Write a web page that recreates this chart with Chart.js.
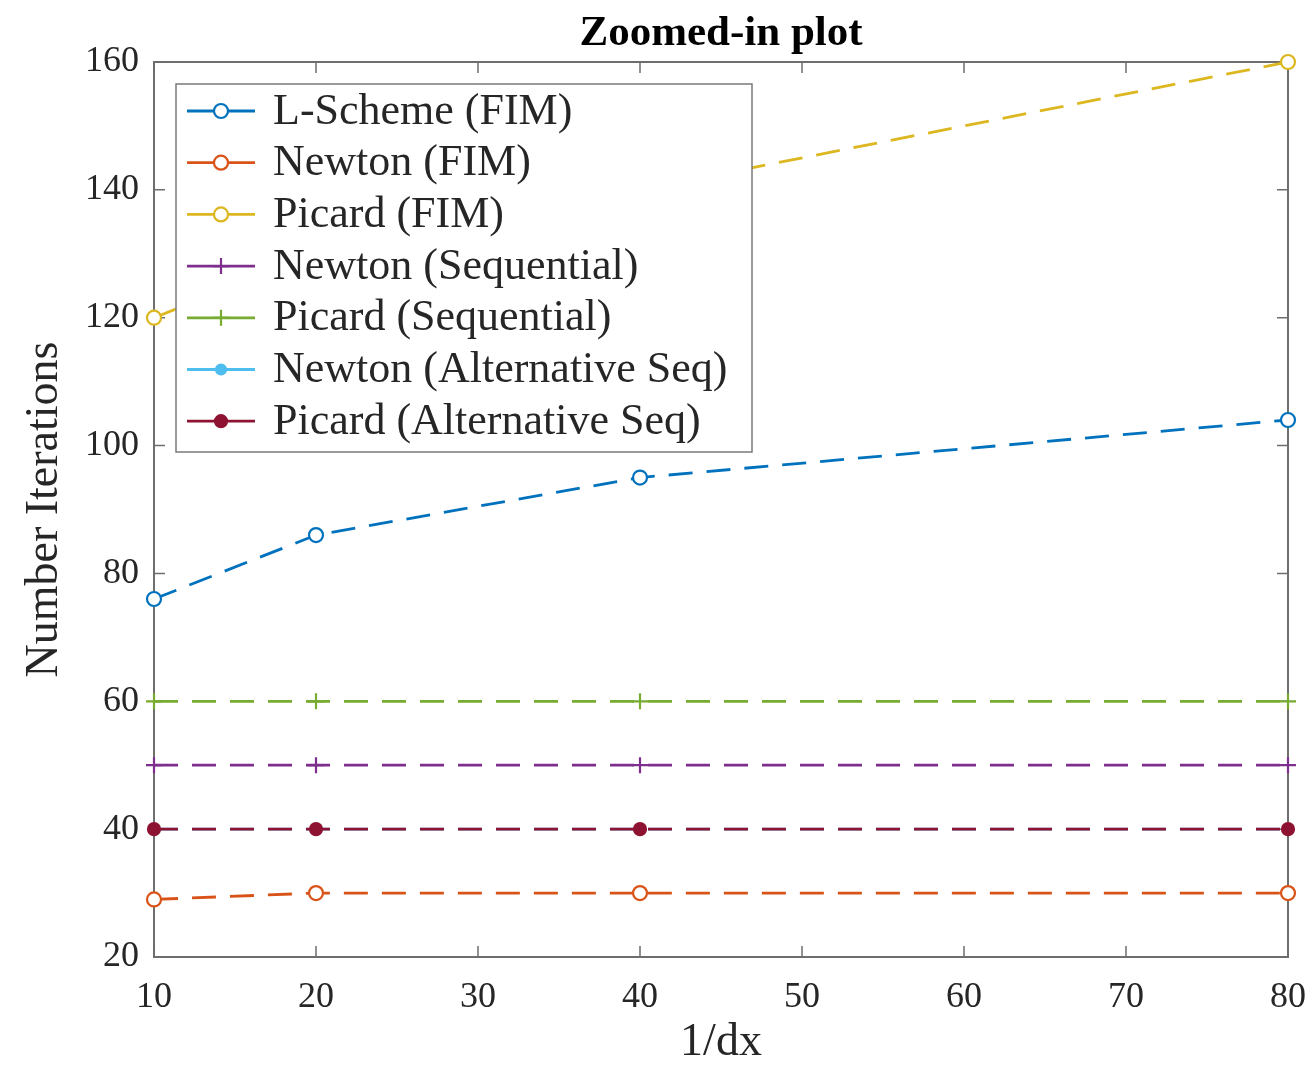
<!DOCTYPE html>
<html>
<head>
<meta charset="utf-8">
<script src="https://cdn.jsdelivr.net/npm/chart.js@4.4.1/dist/chart.umd.min.js"></script>
<style>
  html, body { margin: 0; padding: 0; background: #fff; }
  #wrap { width: 1316px; height: 1065px; position: relative; }
</style>
</head>
<body>
<div id="wrap"><canvas id="c" width="1316" height="1065"></canvas></div>
<script>
// Grid refinement levels (1/dx) and iteration counts per solver
const gridSizes    = [10, 20, 40, 80];
const lSchemeFIM   = [76, 86, 95, 104];
const newtonFIM    = [29, 30, 30, 30];
const picardFIM    = [120, 130, 140, 160];
const newtonSeq    = [50, 50, 50, 50];
const picardSeq    = [60, 60, 60, 60];
const newtonAltSeq = [40, 40, 40, 40];
const picardAltSeq = [40, 40, 40, 40];

const seriesLabels = [
  'L-Scheme (FIM)', 'Newton (FIM)', 'Picard (FIM)',
  'Newton (Sequential)', 'Picard (Sequential)',
  'Newton (Alternative Seq)', 'Picard (Alternative Seq)'
];
const xTicks = [10, 20, 30, 40, 50, 60, 70, 80];
const yTicks = [20, 40, 60, 80, 100, 120, 140, 160];

const chartTitle = 'Zoomed-in plot';
const xLabel = '1/dx';
const yLabel = 'Number Iterations';

const FONT = "'Liberation Serif', 'Times New Roman', serif";
const TEXT = '#262626';

const seriesValues = [lSchemeFIM, newtonFIM, picardFIM, newtonSeq, picardSeq, newtonAltSeq, picardAltSeq];
const seriesColors = ['#0072BD', '#D95319', '#DDB720', '#7E2F8E', '#77AC30', '#4DBEEE', '#8E1232'];
const markerStyle = [
  { pointStyle: 'circle', radius: 7, fill: '#ffffff' },
  { pointStyle: 'circle', radius: 7, fill: '#ffffff' },
  { pointStyle: 'circle', radius: 7, fill: '#ffffff' },
  { pointStyle: 'cross',  radius: 8, fill: null },
  { pointStyle: 'cross',  radius: 8, fill: null },
  { pointStyle: 'circle', radius: 5, fill: 'self' },
  { pointStyle: 'circle', radius: 6, fill: 'self' }
];

const datasets = seriesValues.map((vals, i) => {
  const m = markerStyle[i];
  const col = seriesColors[i];
  return {
    label: seriesLabels[i],
    data: gridSizes.map((x, k) => ({ x: x, y: vals[k] })),
    borderColor: col,
    backgroundColor: col,
    borderWidth: 2.8,
    borderDash: [24, 14],
    tension: 0,
    fill: false,
    clip: false,
    order: seriesValues.length - i,
    pointStyle: m.pointStyle,
    pointRadius: m.radius,
    pointBorderWidth: 2.2,
    pointBorderColor: col,
    pointBackgroundColor: m.fill === 'self' ? col : (m.fill || 'rgba(0,0,0,0)')
  };
});

// Axes box with inward tick marks on all four sides
const boxPlugin = {
  id: 'axesBox',
  beforeDatasetsDraw(chart) {
    const { ctx, chartArea: a, scales } = chart;
    const len = 11;
    ctx.save();
    ctx.strokeStyle = '#6e6e6e';
    ctx.lineWidth = 2;
    ctx.strokeRect(a.left, a.top, a.right - a.left, a.bottom - a.top);
    ctx.lineWidth = 1.5;
    ctx.beginPath();
    xTicks.forEach(v => {
      const px = scales.x.getPixelForValue(v);
      ctx.moveTo(px, a.bottom); ctx.lineTo(px, a.bottom - len);
      ctx.moveTo(px, a.top);    ctx.lineTo(px, a.top + len);
    });
    yTicks.forEach(v => {
      const py = scales.y.getPixelForValue(v);
      ctx.moveTo(a.left, py);  ctx.lineTo(a.left + len, py);
      ctx.moveTo(a.right, py); ctx.lineTo(a.right - len, py);
    });
    ctx.stroke();
    ctx.restore();
  }
};

// Title above the axes
const titlePlugin = {
  id: 'plotTitle',
  afterDraw(chart) {
    const { ctx, chartArea: a } = chart;
    ctx.save();
    ctx.font = "bold 43px " + FONT;
    ctx.fillStyle = '#000';
    ctx.textAlign = 'center';
    ctx.textBaseline = 'middle';
    ctx.fillText(chartTitle, (a.left + a.right) / 2, 34);
    ctx.restore();
  }
};

// Boxed legend in the upper-left corner of the axes
const legendPlugin = {
  id: 'boxLegend',
  afterDatasetsDraw(chart) {
    const { ctx, chartArea: a } = chart;
    const x0 = a.left + 22, y0 = a.top + 22, w = 576, h = 368;
    const rowH = 51.7, firstRow = y0 + 27;
    ctx.save();
    ctx.fillStyle = '#fff';
    ctx.fillRect(x0, y0, w, h);
    ctx.strokeStyle = '#7a7a7a';
    ctx.lineWidth = 1.5;
    ctx.strokeRect(x0, y0, w, h);
    chart.data.datasets.forEach((ds, i) => {
      const y = firstRow + i * rowH;
      ctx.setLineDash([]);
      ctx.strokeStyle = ds.borderColor;
      ctx.lineWidth = 2.8;
      ctx.beginPath();
      ctx.moveTo(x0 + 11, y); ctx.lineTo(x0 + 79, y);
      ctx.stroke();
      ctx.lineWidth = 2.2;
      ctx.fillStyle = ds.pointBackgroundColor;
      ctx.strokeStyle = ds.pointBorderColor;
      Chart.helpers.drawPoint(ctx, {
        pointStyle: ds.pointStyle, radius: ds.pointRadius, borderWidth: 2.2, rotation: 0
      }, x0 + 45, y);
      ctx.fillStyle = TEXT;
      ctx.font = "44px " + FONT;
      ctx.textAlign = 'left';
      ctx.textBaseline = 'middle';
      ctx.fillText(ds.label, x0 + 97, y + 1);
    });
    ctx.restore();
  }
};

new Chart(document.getElementById('c'), {
  type: 'line',
  data: { datasets: datasets },
  options: {
    responsive: false,
    animation: false,
    devicePixelRatio: 1,
    layout: { padding: { top: 62, right: 28, left: 0, bottom: 0 } },
    plugins: { legend: { display: false }, tooltip: { enabled: false }, title: { display: false } },
    scales: {
      x: {
        type: 'linear', min: 10, max: 80,
        afterBuildTicks: s => { s.ticks = xTicks.map(v => ({ value: v })); },
        afterFit: s => { s.height = 108; s.paddingLeft = 0; s.paddingRight = 0; },
        grid: { display: false, drawTicks: false },
        border: { display: false },
        ticks: { font: { family: FONT, size: 36 }, color: TEXT, padding: 19, maxRotation: 0 },
        title: { display: true, text: xLabel, font: { family: FONT, size: 46, lineHeight: 0.95 }, color: TEXT, padding: { top: 0, bottom: 0 } }
      },
      y: {
        type: 'linear', min: 20, max: 160,
        afterBuildTicks: s => { s.ticks = yTicks.map(v => ({ value: v })); },
        afterFit: s => { s.width = 154; s.paddingTop = 0; s.paddingBottom = 0; },
        grid: { display: false, drawTicks: false },
        border: { display: false },
        ticks: { font: { family: FONT, size: 36 }, color: TEXT, padding: 15 },
        title: { display: true, text: yLabel, font: { family: FONT, size: 46 }, color: TEXT, padding: { top: 17, bottom: 0 } }
      }
    }
  },
  plugins: [boxPlugin, legendPlugin, titlePlugin]
});
</script>
</body>
</html>
